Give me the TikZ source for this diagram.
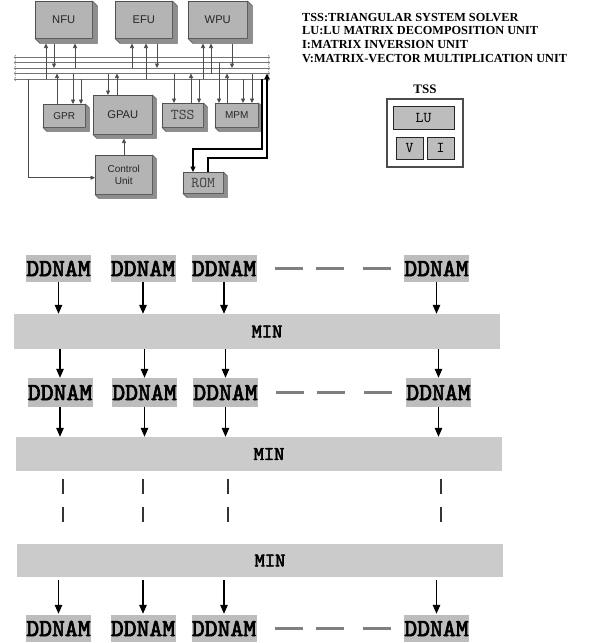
\documentclass[tikz,border=0pt]{standalone}
\usepackage{fontspec}
\setmainfont{Liberation Serif}
\newfontfamily\sansf{Liberation Sans}
\newfontfamily\slabf[FakeBold=2.8]{lmmono10-regular.otf}
\newfontfamily\typef{lmmono10-regular.otf}
\usetikzlibrary{arrows.meta,calc}
\definecolor{boxgray}{HTML}{B4B4B4}
\definecolor{sidegray}{HTML}{8E8E8E}
\definecolor{edgegray}{HTML}{505050}
\definecolor{ddgray}{HTML}{BDBDBD}
\definecolor{mingray}{HTML}{CBCBCB}
\definecolor{dashgray}{HTML}{7F7F7F}
\tikzset{
  ubox/.style={draw=edgegray, fill=boxgray, line width=0.5pt, inner sep=0pt, anchor=north west,
    font=\sansf\fontsize{11.2}{12}\selectfont, align=center, text=black!85},
  sbox/.style={ubox, font=\sansf\fontsize{10}{11.5}\selectfont},
  mbox/.style={ubox, font=\typef\fontsize{15}{15}\selectfont, text=black!75},
  conn/.style={draw=black!70, line width=0.7pt},
  carr/.style={conn, -{Triangle[length=4.5pt,width=4pt]}},
  busline/.style={draw=black!55, line width=1pt},
  romline/.style={draw=black, line width=1.1pt},
  romarr/.style={romline, -{Triangle[length=5.5pt,width=5pt]}},
  legend/.style={anchor=base west, inner sep=0pt, font=\bfseries\fontsize{12.3}{13}\selectfont},
  smallbox/.style={draw=black!85, fill=ddgray, line width=1pt, inner sep=0pt,
    font=\typef\fontsize{15}{15}\selectfont},
  dd/.style={fill=ddgray, minimum width=65pt, minimum height=27pt, inner sep=0pt,
    font=\slabf\fontsize{24.5}{25}\selectfont},
  minbar/.style={fill=mingray, inner sep=0pt, font=\slabf\fontsize{19.5}{20}\selectfont},
  barr/.style={draw=black, line width=1.3pt, -{Triangle[length=9pt,width=7.5pt]}},
  vdash/.style={draw=black!80, line width=1.6pt, dash pattern=on 15pt off 13pt},
  hdash/.style={draw=dashgray, line width=3pt, dash pattern=on 28pt off 13pt on 28pt off 19pt on 28pt off 100pt}
}
\newcommand\extr[2]{\fill[sidegray, draw=edgegray, line width=0.4pt] (#1.north east) -- ++(#2,#2)
  -- ([shift={(#2,#2)}]#1.south east) -- ([shift={(#2,#2)}]#1.south west) -- (#1.south west)
  -- (#1.south east) -- cycle;}
\begin{document}
\begin{tikzpicture}[x=1pt,y=-1pt]
\useasboundingbox (0,0) rectangle (589,643);
\fill[white] (0,0) rectangle (589,643);

% ---------- top-left architecture ----------
\node[ubox, minimum width=57, minimum height=37] (nfu) at (35,1) {NFU}; \extr{nfu}{5}
\node[ubox, minimum width=57, minimum height=37] (efu) at (115,1) {EFU}; \extr{efu}{5}
\node[ubox, minimum width=59, minimum height=37] (wpu) at (188,1) {WPU}; \extr{wpu}{5}

\node[sbox, minimum width=42, minimum height=23] (gpr) at (43,104) {GPR}; \extr{gpr}{4}
\node[ubox, minimum width=59, minimum height=39] (gpau) at (93,95) {GPAU}; \extr{gpau}{4}
\node[mbox, minimum width=41, minimum height=24] (tss) at (162,103) {TSS}; \extr{tss}{4}
\node[sbox, minimum width=43, minimum height=24] (mpm) at (215,103) {MPM}; \extr{mpm}{4}
\node[sbox, minimum width=57, minimum height=39] (cu) at (95,155) {Control\\Unit}; \extr{cu}{4}
\node[mbox, minimum width=40, minimum height=21] (rom) at (183,172) {ROM}; \extr{rom}{4}

% bus
\coordinate (L1) at (14,57);   \coordinate (L1e) at (270,57);
\coordinate (L2) at (14,62.5); \coordinate (L2e) at (270,62.5);
\coordinate (L3) at (14,68);   \coordinate (L3e) at (270,68);
\coordinate (L4) at (14,73.5); \coordinate (L4e) at (270,73.5);
\coordinate (L5) at (14,79);   \coordinate (L5e) at (270,79);
\foreach \p in {1,...,5}{
  \draw[busline] (L\p) -- (L\p e);
  \draw[draw=black!45, line width=0.6pt] ([shift={(2,-2)}]L\p) to[out=180,in=180] ([shift={(2,2)}]L\p);
  \draw[draw=black!45, line width=0.6pt] ([shift={(-2,-2)}]L\p e) to[out=0,in=0] ([shift={(-2,2)}]L\p e);
}

% NFU
\draw[carr] (46,0 |- L5) -- ($(46,0 |- nfu.south)+(0,5)$);
\draw[carr] ($(54,0 |- nfu.south)+(0,5)$) -- (54,0 |- L3);
\draw[carr] (75,0 |- L3) -- ($(75,0 |- nfu.south)+(0,5)$);
% EFU
\draw[carr] (132,0 |- L3) -- ($(132,0 |- efu.south)+(0,5)$);
\draw[carr] (146,0 |- L5) -- ($(146,0 |- efu.south)+(0,5)$);
\draw[carr] ($(157,0 |- efu.south)+(0,5)$) -- (157,0 |- L3);
% WPU
\draw[carr] (203,0 |- L5) -- ($(203,0 |- wpu.south)+(0,5)$);
\draw[carr] (211,0 |- L4) -- ($(211,0 |- wpu.south)+(0,5)$);
\draw[carr] ($(232,0 |- wpu.south)+(0,5)$) -- (232,0 |- L3);
% GPR
\draw[carr] (57,0 |- gpr.north) -- (57,0 |- L4);
\draw[carr] (73,0 |- L4) -- (73,0 |- gpr.north);
\draw[carr] (81,0 |- L5) -- (81,0 |- gpr.north);
% GPAU
\draw[carr] (108,0 |- L4) -- (108,0 |- gpau.north);
\draw[carr] (117,0 |- gpau.north) -- (117,0 |- L4);
% TSS
\draw[carr] (174,0 |- L4) -- (174,0 |- tss.north);
\draw[carr] (191,0 |- tss.north) -- (191,0 |- L4);
\draw[carr] (199,0 |- L5) -- (199,0 |- tss.north);
% MPM
\draw[carr] (219,0 |- L2) -- (219,0 |- mpm.north);
\draw[carr] (227,0 |- mpm.north) -- (227,0 |- L4);
\draw[carr] (243,0 |- L5) -- (243,0 |- mpm.north);
\draw[carr] (252,0 |- L4) -- (252,0 |- mpm.north);
% Control unit
\draw[carr] (124,0 |- cu.north) -- ($(124,0 |- gpau.south)+(0,4)$);
\draw[carr] (28,0 |- L5) |- ($(cu.west)+(0,3)$);
% ROM
\draw[romarr] (262,0 |- L5) -- (262,149) -| (193,0 |- rom.north);
\draw[romarr] (208,0 |- rom.north) |- (267,158) -- (267,0 |- L4);

% ---------- legend ----------
\node[legend] (leg1) at (302,21) {TSS:TRIANGULAR SYSTEM SOLVER};
\node[legend] (leg2) at (302,34.5) {LU:LU MATRIX DECOMPOSITION UNIT};
\node[legend] (leg3) at (302,48) {I:MATRIX INVERSION UNIT};
\node[legend] (leg4) at (302,62) {V:MATRIX-VECTOR MULTIPLICATION UNIT};

\node[font=\bfseries\fontsize{13}{13}\selectfont, inner sep=0pt] (tsslbl) at (425,89) {TSS};
\node[draw=black!70, line width=1.2pt, fill=white, minimum width=76, minimum height=68, inner sep=0pt] (tssbox) at (425,133) {};
\node[smallbox, minimum width=61, minimum height=23] (lu) at (423.5,117.5) {LU};
\node[smallbox, minimum width=27, minimum height=22] (vb) at (409.5,148) {V};
\node[smallbox, minimum width=27, minimum height=22] (ib) at (440.5,148) {I};

% ---------- bottom network ----------
\node[dd] (r1a) at (58.5,268.5) {DDNAM};
\node[dd] (r1b) at (143,268.5) {DDNAM};
\node[dd] (r1c) at (224,268.5) {DDNAM};
\node[dd] (r1d) at (436.5,268.5) {DDNAM};
\draw[hdash] ([xshift=18pt]r1c.east) -- ([xshift=-13pt]r1d.west);

\node[minbar, minimum width=486, minimum height=35] (m1) at (257,331.5) {\hspace*{20pt}MIN};

\node[dd, minimum height=29] (r2a) at (60,392.5) {DDNAM};
\node[dd, minimum height=29] (r2b) at (144.5,392.5) {DDNAM};
\node[dd, minimum height=29] (r2c) at (225.5,392.5) {DDNAM};
\node[dd, minimum height=29] (r2d) at (438.5,392.5) {DDNAM};
\draw[hdash] ([xshift=18pt]r2c.east) -- ([xshift=-13pt]r2d.west);

\node[minbar, minimum width=486, minimum height=34] (m2) at (259,454) {\hspace*{20pt}MIN};
\node[minbar, minimum width=486, minimum height=33] (m3) at (260,560.5) {\hspace*{20pt}MIN};

\node[dd] (r3a) at (58.5,628.5) {DDNAM};
\node[dd] (r3b) at (143,628.5) {DDNAM};
\node[dd] (r3c) at (224,628.5) {DDNAM};
\node[dd] (r3d) at (436.5,628.5) {DDNAM};
\draw[hdash] ([xshift=18pt]r3c.east) -- ([xshift=-13pt]r3d.west);

\foreach \n in {a,b,c,d}{
  \draw[barr] (r1\n.south) -- (r1\n.south |- m1.north);
  \draw[barr] (r2\n.north |- m1.south) -- (r2\n.north);
  \draw[barr] (r2\n.south) -- (r2\n.south |- m2.north);
  \draw[barr] ($(r3\n.north |- m3.south)+(0,3)$) -- ($(r3\n.north)+(0,-1)$);
}
\foreach \xx in {63,143,228,441}{
  \draw[vdash] ($(\xx,0 |- m2.south)+(0,8)$) -- ($(\xx,0 |- m3.north)+(0,-20)$);
}
\end{tikzpicture}
\end{document}
